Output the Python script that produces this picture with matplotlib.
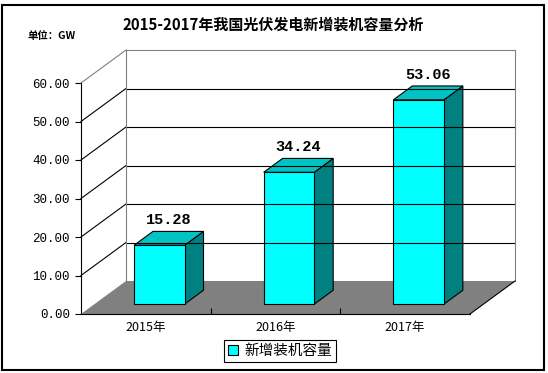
import matplotlib.pyplot as plt
from matplotlib.patches import Polygon, Rectangle, Patch

plt.rcParams['font.family'] = ['Noto Sans CJK SC', 'DejaVu Sans']

categories = ["2015年", "2016年", "2017年"]
values = [15.28, 34.24, 53.06]
series_name = "新增装机容量"
title = "2015-2017年我国光伏发电新增装机容量分析"
unit = "单位：GW"
y_ticks = [0, 10, 20, 30, 40, 50, 60]

W, H = 548, 373
fig = plt.figure(figsize=(W / 100, H / 100), dpi=100)
ax = fig.add_axes([81 / W, 59 / H, 389 / W, 231 / H])
n = len(categories)
ymax = y_ticks[-1]
ax.set_xlim(-0.5, n - 0.5)
ax.set_ylim(0, ymax)

# fake 3d depth, in data units
dx = 45 / 389 * n
dy = 33 / 231 * ymax
x0, x1 = -0.5, n - 0.5

# walls and grid
for t in y_ticks[1:]:
    c = "gray" if t == ymax else "black"
    ax.plot([x0, x0 + dx], [t, t + dy], color=c, lw=0.8, clip_on=False)
    ax.plot([x0 + dx, x1 + dx], [t + dy, t + dy], color=c, lw=0.8, clip_on=False)
ax.plot([x0 + dx] * 2, [dy, ymax + dy], color="gray", lw=0.8, clip_on=False)
ax.plot([x1 + dx] * 2, [dy, ymax + dy], color="gray", lw=0.8, clip_on=False)

floor = Polygon([(x0, 0), (x1, 0), (x1 + dx, dy), (x0 + dx, dy)], closed=True,
                facecolor="#808080", edgecolor="none", clip_on=False)
ax.add_patch(floor)
ax.plot([x1, x1 + dx], [0, dy], color="black", lw=0.8, clip_on=False)

# bars
f0, f1 = 0.3, 0.72
bw = 0.39
ddx, ddy = (f1 - f0) * dx, (f1 - f0) * dy
for i, v in enumerate(values):
    xl = i - bw / 2 + f0 * dx
    xr = xl + bw
    yb = f0 * dy
    yt = v + yb
    kw = dict(edgecolor="black", lw=0.8, clip_on=False, joinstyle="miter")
    ax.add_patch(Polygon([(xr, yb), (xr + ddx, yb + ddy), (xr + ddx, yt + ddy), (xr, yt)],
                         facecolor="#008080", **kw))
    ax.add_patch(Polygon([(xl, yt), (xr, yt), (xr + ddx, yt + ddy), (xl + ddx, yt + ddy)],
                         facecolor="#00C4C4", **kw))
    ax.add_patch(Rectangle((xl, yb), bw, v, facecolor="#00FFFF", **kw))
    ax.annotate(f"{v:.2f}", (i + (f0 + f1) / 2 * dx, v + f1 * dy), xytext=(0, 3),
                textcoords="offset points", ha="center", va="bottom",
                fontsize=11, family="Liberation Mono", fontweight="bold")

# axes
for s in ["top", "right"]:
    ax.spines[s].set_visible(False)
ax.spines["left"].set_linewidth(0.8)
ax.spines["bottom"].set_linewidth(0.8)
ax.set_facecolor("none")
ax.set_yticks(y_ticks)
ax.set_yticklabels([f"{t:.2f}" for t in y_ticks], family="Liberation Mono", fontsize=9)
ax.tick_params(axis="y", direction="out", length=4, pad=4, width=0.8)
ax.set_xticks([i + 0.5 for i in range(n - 1)])
ax.set_xticklabels([])
ax.set_xticks(range(n), minor=True)
ax.set_xticklabels(categories, minor=True, fontsize=9)
ax.tick_params(axis="x", which="major", direction="in", length=4, width=0.8)
ax.tick_params(axis="x", which="minor", length=0, pad=5)

fig.text(273 / W, 1 - 25 / H, title, ha="center", va="center",
         fontsize=10.8, fontweight="bold")
fig.text(27 / W, 1 - 36 / H, unit, ha="left", va="center",
         fontsize=7.5, fontweight="bold")

leg = fig.legend(handles=[Patch(facecolor="#00FFFF", edgecolor="black", lw=0.8)],
                 labels=[series_name], loc="center", bbox_to_anchor=(280 / W, 1 - 351 / H),
                 fancybox=False, edgecolor="black", fontsize=10.5, handlelength=0.7,
                 handleheight=0.7, handletextpad=0.4, borderpad=0.3, borderaxespad=0,
                 framealpha=1)
leg.get_frame().set_linewidth(0.8)

fig.patches.append(Rectangle((2 / W, 3 / H), 542 / W, 365 / H, transform=fig.transFigure,
                             fill=False, edgecolor="black", lw=1.5))

fig.savefig("out.png", dpi=100)
